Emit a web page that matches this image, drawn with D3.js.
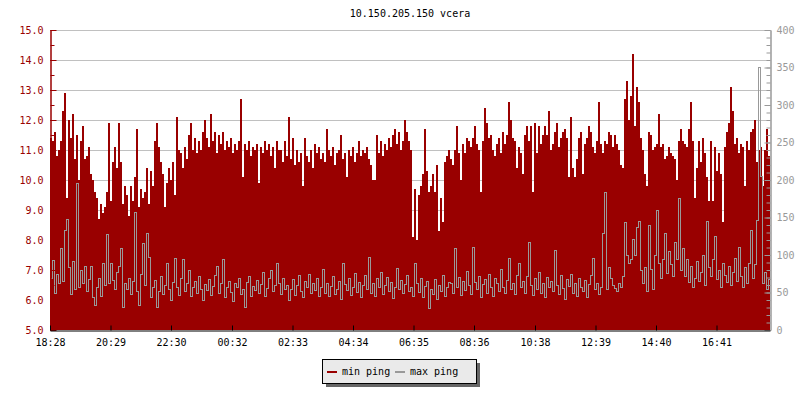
<!DOCTYPE html>
<html><head><meta charset="utf-8">
<script src="https://cdn.jsdelivr.net/npm/d3@7"></script>
<style>
html,body{margin:0;padding:0;background:#fff;}
svg text{font-family:"DejaVu Sans Mono",monospace;font-size:10px;}
</style></head>
<body><svg id="c" width="800" height="400"></svg>
<script>
const title = "10.150.205.150 vcera";
const startTime = "18:28";
const stepMinutes = 4;
const tickLabels = ["18:28","20:29","22:30","00:32","02:33","04:34","06:35","08:36","10:38","12:39","14:40","16:41"];
const leftTicks = [5,6,7,8,9,10,11,12,13,14,15];
const rightTicks = [0,50,100,150,200,250,300,350,400];
const seriesNames = ["min ping","max ping"];
const minPing = [
11.4,11.3,11.6,10.8,11.0,11.3,12.3,12.9,9.4,12.0,
11.4,12.2,10.7,11.5,10.0,11.3,11.8,10.7,10.8,11.1,
10.2,10.0,9.6,9.4,8.7,9.2,8.9,9.1,9.6,11.9,
9.3,10.6,11.1,10.4,11.9,10.6,9.2,9.8,9.5,8.8,
9.8,9.3,10.1,11.7,9.1,9.7,9.4,9.6,10.4,9.2,
10.3,9.8,11.3,11.9,11.1,10.6,10.2,9.1,9.9,10.4,
10.0,10.6,9.5,12.1,11.0,10.9,10.4,11.1,10.7,11.5,
11.9,11.0,11.4,10.9,11.3,11.0,11.6,12.0,11.4,11.1,
12.2,11.3,11.6,10.9,11.5,11.2,11.6,11.0,11.3,11.1,
11.4,10.9,11.2,11.0,11.3,12.7,10.1,11.2,11.0,11.3,
10.8,11.1,11.0,11.2,9.9,11.1,10.9,11.3,11.0,11.2,
10.8,11.1,10.4,11.3,11.0,11.0,10.6,11.3,10.8,12.1,
10.7,11.4,10.5,11.0,10.6,10.9,9.8,11.4,10.8,10.6,
11.0,10.4,11.2,10.9,11.1,10.7,10.9,10.6,11.7,11.0,
10.8,11.1,10.5,10.9,11.0,11.5,10.7,10.9,10.1,11.0,
10.8,11.1,10.6,10.9,11.3,10.8,11.0,10.9,11.1,10.7,
10.5,10.0,10.0,11.5,10.9,11.3,10.8,11.2,11.0,11.4,
11.1,11.5,11.7,11.2,11.6,11.0,11.3,12.0,11.6,11.3,
11.0,8.1,9.7,8.0,9.5,9.8,10.2,11.7,10.3,9.6,
9.8,10.2,9.6,10.5,8.3,9.4,8.6,10.6,10.8,11.0,
10.7,10.5,11.0,11.8,10.9,10.0,11.2,10.9,11.4,11.3,
11.1,11.4,11.8,11.2,11.0,9.6,11.3,12.4,11.9,11.4,
11.5,11.0,10.8,11.2,11.4,10.9,11.6,11.2,11.5,12.6,
12.0,11.4,11.3,10.4,11.1,10.9,10.2,11.5,11.8,11.3,
11.8,9.6,11.9,10.9,11.8,11.2,11.5,11.8,11.5,12.3,
11.0,11.2,11.6,11.9,11.1,11.4,11.6,11.7,11.4,10.1,
12.1,10.4,10.1,10.7,11.4,11.6,10.2,11.2,11.4,11.8,
11.6,11.1,10.9,11.3,12.6,11.2,10.9,11.3,11.2,11.6,
11.5,11.1,11.5,11.2,11.0,10.5,10.4,12.7,13.3,12.0,
12.8,14.2,11.8,13.1,12.6,11.4,11.0,10.2,9.8,11.6,
11.5,11.0,11.1,11.2,12.2,11.1,11.2,10.7,10.8,11.1,
10.9,10.8,10.7,10.0,11.3,11.7,11.3,11.2,11.1,11.7,
12.6,11.3,9.4,10.4,11.3,10.6,11.4,10.9,10.1,9.3,
11.3,9.3,11.1,10.3,10.9,10.2,8.6,11.1,11.6,11.9,
13.1,12.3,11.2,11.4,10.9,11.2,11.1,9.8,11.3,11.0,
11.6,11.7,12.0,10.6,11.0,11.1,9.8,11.0,11.7,10.8
];
const maxPing = [
70,93,50,75,62,110,66,133,148,84,
48,92,55,196,58,80,62,86,52,68,
85,44,34,58,70,45,89,60,128,62,
90,67,55,78,86,109,31,62,55,70,
48,66,158,52,33,75,116,60,129,98,
44,58,67,31,52,72,48,60,89,55,
40,64,96,58,47,70,95,52,63,80,
45,58,66,49,72,55,40,61,53,68,
47,59,74,85,50,62,95,44,57,66,
51,39,63,58,70,48,55,31,64,72,
46,59,53,67,49,61,78,45,56,69,
80,52,60,89,62,48,70,55,60,40,
55,68,47,60,73,52,44,66,58,75,
49,62,54,70,45,57,81,50,63,46,
59,72,48,55,66,42,89,61,53,70,
47,58,76,51,64,44,60,73,55,98,
50,62,45,69,57,78,48,60,71,52,
64,43,58,83,55,67,49,61,74,52,
58,46,89,63,51,70,44,59,66,29,
55,48,68,41,60,52,73,45,57,64,
62,50,109,58,71,47,66,53,79,60,
48,111,64,55,72,44,61,68,50,75,
57,46,70,63,52,81,58,49,67,96,
55,62,48,74,90,58,66,50,72,117,
60,47,69,55,78,50,63,44,71,57,
65,52,107,60,48,73,56,42,68,59,
75,50,63,46,70,58,52,67,44,61,
74,96,55,62,48,58,129,184,55,84,
70,60,56,52,62,58,72,144,100,90,
95,122,100,138,146,80,62,84,52,140,
82,55,100,160,90,70,95,129,76,105,
88,72,118,95,176,80,110,72,95,64,
85,58,70,92,66,78,100,60,145,84,
72,95,125,68,80,58,90,73,64,86,
60,78,96,66,111,72,58,84,62,90,
133,70,88,147,351,205,62,78,55,68
];

const RED = "#990000", GRAY = "#999999";
const svg = d3.select("#c");
const L = 50, R = 770, T = 30, B = 330;

const base = new Date(2000,0,1, +startTime.split(":")[0], +startTime.split(":")[1]);
const parseLabel = s => {
  const [h,m] = s.split(":").map(Number);
  let d = new Date(2000,0,1,h,m);
  if (d < base) d = d3.timeDay.offset(d,1);
  return d;
};
const endTime = d3.timeDay.offset(base,1);
const x = d3.scaleTime().domain([base,endTime]).range([L,R]);
const yL = d3.scaleLinear().domain([5,15]).range([B,T]);
const yR = d3.scaleLinear().domain([0,400]).range([B,T]);
const tAt = i => d3.timeMinute.offset(base, i*stepMinutes);

// title
svg.append("text").attr("x",(L+R)/2).attr("y",17).attr("text-anchor","middle").attr("fill","#000").text(title);

// grid
svg.append("g").selectAll("line").data(leftTicks.slice(1)).join("line")
  .attr("x1",L).attr("x2",R).attr("y1",d=>yL(d)+0.5).attr("y2",d=>yL(d)+0.5)
  .attr("stroke","#c0c0c0").attr("stroke-width",1);

// red area
const minD = minPing.concat([minPing[minPing.length-1]]);
const area = d3.area().x((d,i)=>x(tAt(i))).y0(yL(5)).y1(d=>yL(d)).curve(d3.curveStepAfter);
svg.append("path").attr("d",area(minD)).attr("fill",RED).attr("shape-rendering","crispEdges");

// gray line
const maxD = maxPing.concat([maxPing[maxPing.length-1]]);
const line = d3.line().x((d,i)=>x(tAt(i))+0.5).y(d=>Math.round(yR(d))+0.5).curve(d3.curveStepAfter);
svg.append("path").attr("d",line(maxD)).attr("fill","none").attr("stroke",GRAY).attr("stroke-width",1).attr("shape-rendering","crispEdges");

// left axis
const gl = svg.append("g").attr("transform",`translate(${L+0.5},0)`);
gl.call(d3.axisLeft(yL).tickValues(d3.range(5,15.01,0.5)).tickSizeInner(-4).tickSizeOuter(0).tickFormat(""));
gl.call(g=>g.selectAll(".tick line").attr("stroke",RED));
const gl2 = svg.append("g").attr("transform",`translate(${L+0.5},0)`);
gl2.call(d3.axisLeft(yL).tickValues(leftTicks).tickSizeInner(-6).tickSizeOuter(0).tickPadding(7).tickFormat(d3.format(".1f")));
gl2.selectAll(".domain").attr("stroke",RED);
gl2.selectAll(".tick line").attr("stroke",RED);
gl2.selectAll(".tick text").attr("fill",RED).style("font-family","DejaVu Sans Mono").style("font-size","10px");
gl.selectAll(".domain").attr("stroke",RED);

// right axis
const gr = svg.append("g").attr("transform",`translate(${R+0.5},0)`);
gr.call(d3.axisRight(yR).tickValues(d3.range(0,401,10)).tickSizeInner(-4).tickSizeOuter(0).tickFormat(""));
gr.selectAll("path,line").attr("stroke",GRAY);
const gr2 = svg.append("g").attr("transform",`translate(${R+0.5},0)`);
gr2.call(d3.axisRight(yR).tickValues(rightTicks).tickSizeInner(-6).tickSizeOuter(0).tickPadding(6));
gr2.selectAll("path,line").attr("stroke",GRAY);
gr2.selectAll(".tick text").attr("fill",GRAY).style("font-family","DejaVu Sans Mono").style("font-size","10px");

// bottom axis
const gb = svg.append("g").attr("transform",`translate(0,${B+0.5})`);
gb.call(d3.axisBottom(x).tickValues(tickLabels.map(parseLabel)).tickSizeInner(-5).tickSizeOuter(0).tickPadding(8).tickFormat(d3.timeFormat("%H:%M")));
gb.selectAll("path,line").attr("stroke","#000");
gb.selectAll(".tick text").attr("fill","#000").style("font-family","DejaVu Sans Mono").style("font-size","10px");

// legend
const lg = svg.append("g").attr("transform","translate(322,359)");
lg.append("rect").attr("x",4).attr("y",4).attr("width",154).attr("height",24).attr("fill","#666");
lg.append("rect").attr("x",0.5).attr("y",0.5).attr("width",154).attr("height",24).attr("fill","#eaeaea").attr("stroke","#000");
const items = [{n:seriesNames[0],c:RED,x:5},{n:seriesNames[1],c:GRAY,x:73}];
items.forEach(it=>{
  lg.append("rect").attr("x",it.x).attr("y",12).attr("width",10).attr("height",2).attr("fill",it.c);
  lg.append("text").attr("x",it.x+15).attr("y",16).attr("fill","#000").text(it.n);
});
</script></body></html>
